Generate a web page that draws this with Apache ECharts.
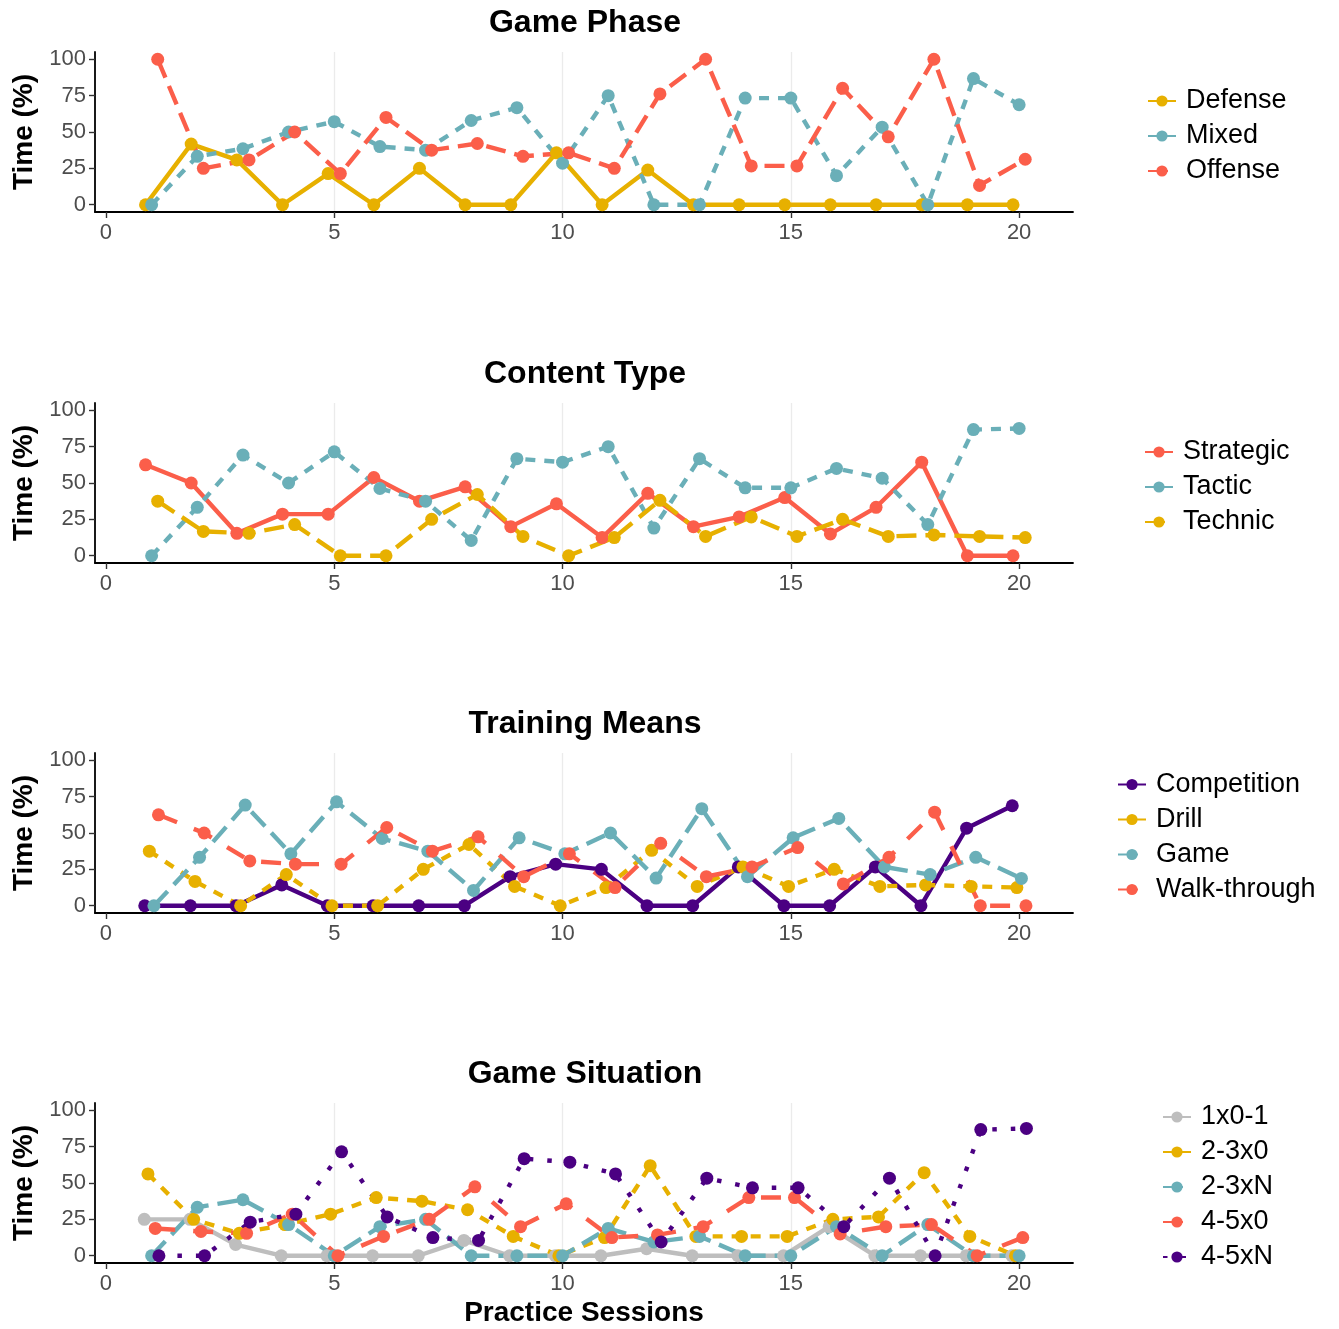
<!DOCTYPE html>
<html>
<head>
<meta charset="utf-8">
<script src="https://cdn.jsdelivr.net/npm/echarts@6/dist/echarts.min.js"></script>
<style>
html,body{margin:0;padding:0;background:#fff;}
#chart{width:1339px;height:1329px;}
</style>
</head>
<body>
<div id="chart"></div>
<script>
// ---------- data ----------
const sessions = [1,2,3,4,5,6,7,8,9,10,11,12,13,14,15,16,17,18,19,20];
const xTicks = [0,5,10,15,20];
const yTicks = [0,25,50,75,100];

// Game Phase
const phaseNames = ['Defense','Mixed','Offense'];
const defense = [0,41.7,30.8,0,21.4,0,25,0,0,35.7,0,23.8,0,0,0,0,0,0,0,0];
const mixed   = [0,33.3,38.5,50,57.1,40,37.5,57.9,66.7,28.6,75,0,0,73.3,73.3,20,53.3,0,86.7,68.75];
const offense = [100,25,30.8,50,21.4,60,37.5,42.1,33.3,35.7,25,76.2,100,26.7,26.7,80,46.7,100,13.3,31.25];

// Content Type
const contentNames = ['Strategic','Tactic','Technic'];
const strategic = [62.5,50,15.4,28.6,28.6,53.8,37.5,47.4,20,35.7,12.5,42.9,20,26.7,40,15,33.3,64.3,0,0];
const tactic    = [0,33.3,69.2,50,71.4,46.2,37.5,10.5,66.7,64.3,75,19,66.7,46.7,46.7,60,53.3,21.4,86.7,87.5];
const technic   = [37.5,16.7,15.4,21.4,0,0,25,42.1,13.3,0,12.5,38.1,13.3,26.7,13.3,25,13.3,14.3,13.3,12.5];

// Training Means
const meansNames = ['Competition','Drill','Game','Walk-through'];
const competition = [0,0,0,14.3,0,0,0,0,20,28.6,25,0,0,26.7,0,0,26.7,0,53.3,68.75];
const drill       = [37.5,16.7,0,21.4,0,0,25,42.1,13.3,0,12.5,38.1,13.3,26.7,13.3,25,13.3,14.3,13.3,12.5];
const game        = [0,33.3,69.2,35.7,71.4,46.2,37.5,10.5,46.7,35.7,50,19,66.7,20,46.7,60,26.7,21.4,33.3,18.75];
const walkthrough = [62.5,50,30.8,28.6,28.6,53.8,37.5,47.4,20,35.7,12.5,42.9,20,26.7,40,15,33.3,64.3,0,0];

// Game Situation
const situationNames = ['1x0-1','2-3x0','2-3xN','4-5x0','4-5xN'];
const s1x01 = [25,25,7.7,0,0,0,0,10.5,0,0,0,4.8,0,0,0,20,0,0,0,0];
const s23x0 = [56.25,25,15.4,21.4,28.6,40,37.5,31.6,13.3,0,12.5,61.9,13.3,13.3,13.3,25,26.7,57.1,13.3,0];
const s23xN = [0,33.3,38.5,21.4,0,20,25,0,0,0,18.75,9.5,13.3,0,0,20,0,21.4,0,0];
const s45x0 = [18.75,16.7,15.4,28.6,0,13.3,25,47.4,20,35.7,12.5,14.3,20,40,40,15,20,21.4,0,12.5];
const s45xN = [0,0,23.1,28.6,71.4,26.7,12.5,10.5,66.7,64.3,56.25,9.5,53.3,46.7,46.7,20,53.3,0,86.7,87.5];

// ---------- styles ----------
const GOLD='#E7B000', TEAL='#6AAFB8', RED='#FB5E4A', PURPLE='#4B0082', GRAY='#BEBEBE';
const DASHES = ['solid',[10,9],[20,9],[20,18],[4.5,14]];
const FONT = '"Liberation Sans", Arial, Helvetica, sans-serif';

const panels = [
  {title:'Game Phase', names:phaseNames, data:[defense,mixed,offense], colors:[GOLD,TEAL,RED], legendLeft:1142},
  {title:'Content Type', names:contentNames, data:[strategic,tactic,technic], colors:[RED,TEAL,GOLD], legendLeft:1139},
  {title:'Training Means', names:meansNames, data:[competition,drill,game,walkthrough], colors:[PURPLE,GOLD,TEAL,RED], legendLeft:1112},
  {title:'Game Situation', names:situationNames, data:[s1x01,s23x0,s23xN,s45x0,s45xN], colors:[GRAY,GOLD,TEAL,RED,PURPLE], legendLeft:1157}
];

const GRID_LEFT=95, GRID_W=978, GRID_H=160, TOPS=[52,403,753,1103];
const DODGE=0.4;

const option = {animation:false, backgroundColor:'#fff', textStyle:{fontFamily:FONT},
  title:[], legend:[], grid:[], xAxis:[], yAxis:[], series:[]};

panels.forEach((p,pi)=>{
  const top = TOPS[pi];
  option.grid.push({left:GRID_LEFT, top:top, width:GRID_W, height:GRID_H, containLabel:false});
  option.title.push({text:p.title, left:580, top:top-50, textAlign:'center',
    textStyle:{fontSize:32, fontWeight:'bold', color:'#000', fontFamily:FONT}});
  const n = p.names.length;
  const legendH = n*35;
  option.legend.push({orient:'vertical', left:p.legendLeft, top: top + 83 - legendH/2,
    itemWidth:28, itemHeight:14, itemGap:8, data:p.names,
    textStyle:{fontSize:27, color:'#000', fontFamily:FONT, padding:[0,0,0,5]}});
  option.xAxis.push({type:'value', gridIndex:pi, min:-0.24, max:21.18, interval:2.5,
    name: pi===3 ? 'Practice Sessions' : '', nameLocation:'middle', nameGap:36,
    nameTextStyle:{fontSize:28, fontWeight:'bold', color:'#000', fontFamily:FONT},
    axisLine:{show:true, onZero:false, lineStyle:{color:'#000', width:1.8}},
    axisTick:{show:true, length:6, customValues:xTicks, lineStyle:{color:'#333', width:1.4}},
    axisLabel:{customValues:xTicks, fontSize:22, color:'#4D4D4D', margin:10, fontFamily:FONT},
    splitLine:{show:true, showMinLine:false, showMaxLine:false, lineStyle:{color:'#EBEBEB', width:1.3}}
  });
  option.yAxis.push({type:'value', gridIndex:pi, min:-5, max:105, interval:25,
    name:'Time (%)', nameLocation:'middle', nameGap:57, nameRotate:90,
    nameTextStyle:{fontSize:28, fontWeight:'bold', color:'#000', fontFamily:FONT},
    axisLine:{show:true, onZero:false, lineStyle:{color:'#000', width:1.8}},
    axisTick:{show:true, length:6, customValues:yTicks, lineStyle:{color:'#333', width:1.4}},
    axisLabel:{customValues:yTicks, fontSize:22, color:'#4D4D4D', margin:9, fontFamily:FONT},
    splitLine:{show:false}
  });
  p.names.forEach((name,si)=>{
    const off = (si - (n-1)/2) * DODGE / n;
    option.series.push({type:'line', name:name, xAxisIndex:pi, yAxisIndex:pi,
      data: sessions.map((s,k)=>[s+off, p.data[si][k]]),
      symbol:'circle', symbolSize:13, showSymbol:true,
      color:p.colors[si],
      itemStyle:{color:p.colors[si]},
      lineStyle:{color:p.colors[si], width:4.4, type:DASHES[si], cap:'butt'},
      z: 2
    });
  });
});

const chart = echarts.init(document.getElementById('chart'), null, {renderer:'canvas'});
chart.setOption(option);
</script>
</body>
</html>
